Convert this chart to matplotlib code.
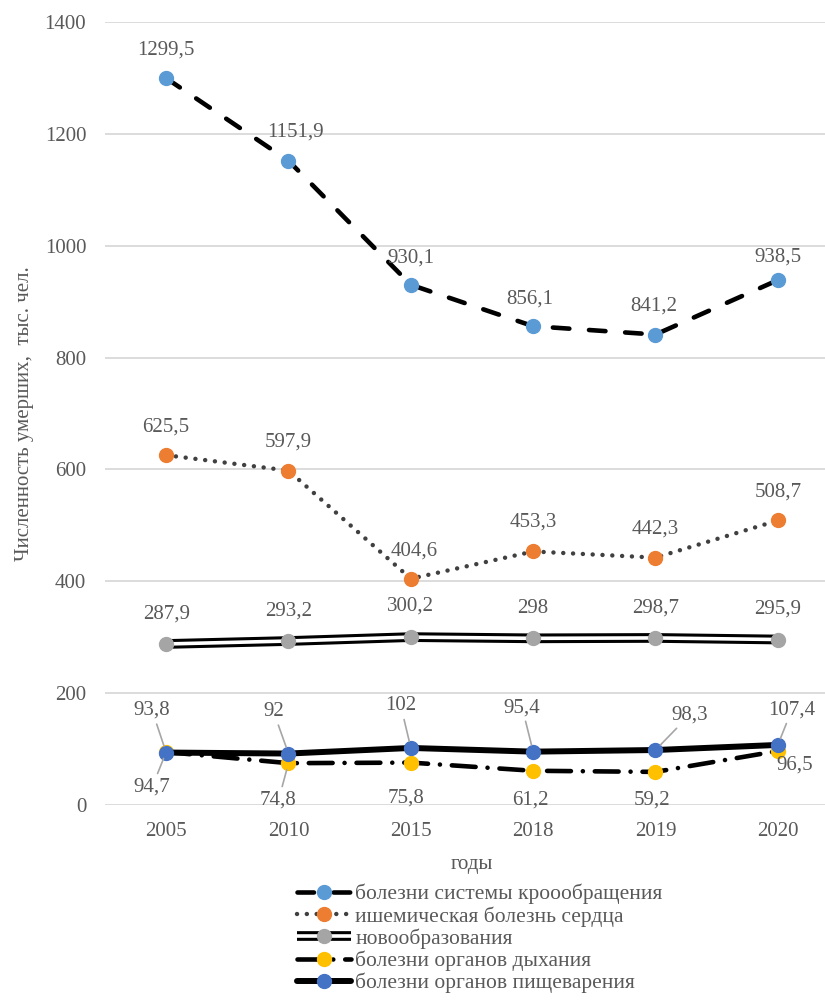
import matplotlib
matplotlib.use("Agg")
import matplotlib.pyplot as plt
from matplotlib.legend_handler import HandlerTuple

plt.rcParams['font.family'] = ['Liberation Serif', 'DejaVu Serif']

years = ['2005', '2010', '2015', '2018', '2019', '2020']
circulatory = [1299.5, 1151.9, 930.1, 856.1, 841.2, 938.5]
ischemic = [625.5, 597.9, 404.6, 453.3, 442.3, 508.7]
neoplasms = [287.9, 293.2, 300.2, 298, 298.7, 295.9]
respiratory = [94.7, 74.8, 75.8, 61.2, 59.2, 96.5]
digestive = [93.8, 92, 102, 95.4, 98.3, 107.4]

names = ['болезни системы кроообращения',
         'ишемическая болезнь сердца',
         'новообразования',
         'болезни органов дыхания',
         'болезни органов пищеварения']

TXT = '#595959'
FS = 15


def fmt(v):
    s = ('%.1f' % v).replace('.', ',')
    return s[:-2] if s.endswith(',0') else s


def labels(ax, xs, ys, offsets, leader=None):
    for i, (x, y) in enumerate(zip(xs, ys)):
        dx, dy = offsets[i]
        kw = {}
        if leader is not None and leader[i]:
            kw['arrowprops'] = dict(arrowstyle='-', color='#a6a6a6', lw=1.2,
                                    shrinkA=1, shrinkB=5)
        ax.annotate(fmt(y), (x, y), xytext=(dx, dy), textcoords='offset pixels',
                    ha='center', va='center', fontsize=FS, color=TXT, **kw)


fig = plt.figure(figsize=(8.25, 10.01), dpi=100)
ax = fig.add_axes([105 / 825, 196 / 1001, 734 / 825, 783 / 1001])

x = list(range(len(years)))

h1, = ax.plot(x, circulatory, color='black', lw=3.3, dashes=(3.6, 4.3),
              dash_capstyle='round', marker='o', ms=10, mfc='#5b9bd5', mec='#5b9bd5')
h2, = ax.plot(x, ischemic, color='#404040', lw=3.2, dashes=(0.01, 2.2),
              dash_capstyle='round', marker='o', ms=10, mfc='#ed7d31', mec='#ed7d31')
h3a, = ax.plot(x, neoplasms, color='black', lw=7, solid_capstyle='butt')
h3b, = ax.plot(x, neoplasms, color='white', lw=2.6, solid_capstyle='butt')
h3c, = ax.plot(x, neoplasms, ls='none', marker='o', ms=10, mfc='#a5a5a5', mec='#a5a5a5')
h4, = ax.plot(x, respiratory, color='black', lw=3.3, dashes=(5.2, 2.6, 0.01, 2.6),
              dash_capstyle='round', marker='o', ms=10, mfc='#ffc000', mec='#ffc000')
h5, = ax.plot(x, digestive, color='black', lw=4.3, solid_capstyle='round',
              marker='o', ms=10, mfc='#4472c4', mec='#4472c4')

labels(ax, x, circulatory, [(0, 28), (7, 29), (0, 27), (-3, 27), (-2, 28), (0, 23)])
labels(ax, x, ischemic, [(0, 28), (0, 29), (3, 28), (0, 29), (0, 29), (0, 28)])
labels(ax, x, neoplasms, [(0, 30), (0, 30), (0, 31), (0, 30), (0, 30), (0, 30)])
labels(ax, x, respiratory, [(-14, -35), (-10, -37), (-5, -35), (-3, -29), (-3, -28), (17, -14)],
       leader=[True, True, False, False, False, False])
labels(ax, x, digestive, [(-14, 42), (-15, 42), (-10, 42), (-11, 44), (34, 35), (14, 35)],
       leader=[True, True, True, True, True, True])

ax.set_xlim(-0.5, 5.5)
ax.set_ylim(0, 1400)
ax.set_yticks(range(0, 1401, 200))
ax.set_xticks(x)
ax.set_xticklabels(years)
ax.tick_params(length=0, labelsize=FS, labelcolor=TXT)
ax.tick_params(axis='y', pad=13.5)
ax.tick_params(axis='x', pad=12)
ax.yaxis.grid(True, color='#d9d9d9', lw=1.3)
ax.set_axisbelow(True)
for s in ax.spines.values():
    s.set_visible(False)

ax.set_xlabel('годы', fontsize=FS, color=TXT, labelpad=10)
ax.set_ylabel('Численность умерших,  тыс. чел.', fontsize=FS, color=TXT, labelpad=8)

fig.legend([h1, h2, (h3a, h3b, h3c), h4, h5], names,
           handler_map={tuple: HandlerTuple(ndivide=1, pad=0)},
           loc='upper left', bbox_to_anchor=(297 / 825, 1 - 884 / 1001),
           frameon=False, fontsize=15.5, labelcolor=TXT, borderpad=0,
           handlelength=2.5, handletextpad=0.2, labelspacing=0.08,
           borderaxespad=0)

fig.savefig('out.png', dpi=100)
